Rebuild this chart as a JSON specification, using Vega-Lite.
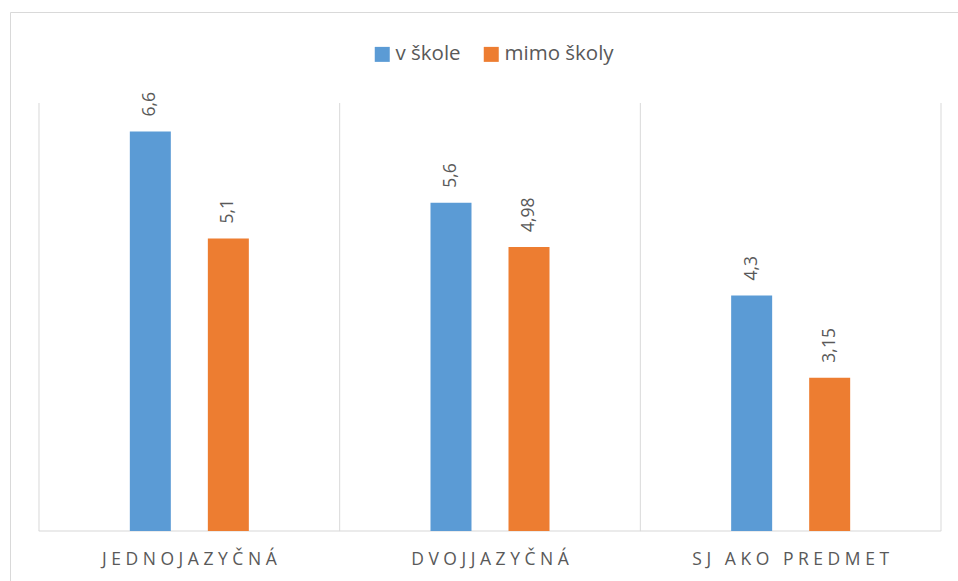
{
  "$schema": "https://vega.github.io/schema/vega-lite/v6.json",
  "width": 960,
  "height": 580,
  "autosize": {"type": "none"},
  "padding": {"left": 10, "top": 12, "right": 0, "bottom": 0},
  "background": "white",
  "config": {
    "font": "Open Sans",
    "locale": {"number": {"decimal": ",", "thousands": " ", "grouping": [3], "currency": ["", " €"]}},
    "view": {"stroke": "#D9D9D9", "strokeWidth": 1}
  },
  "data": {
    "values": [
      {"typ": "JEDNOJAZYČNÁ", "miesto": "v škole", "hodnota": 6.6},
      {"typ": "JEDNOJAZYČNÁ", "miesto": "mimo školy", "hodnota": 5.1},
      {"typ": "DVOJJAZYČNÁ", "miesto": "v škole", "hodnota": 5.6},
      {"typ": "DVOJJAZYČNÁ", "miesto": "mimo školy", "hodnota": 4.98},
      {"typ": "SJ AKO PREDMET", "miesto": "v škole", "hodnota": 4.3},
      {"typ": "SJ AKO PREDMET", "miesto": "mimo školy", "hodnota": 3.15}
    ]
  },
  "layer": [
    {
      "transform": [{"filter": "datum.miesto == 'v škole'"}],
      "mark": {"type": "rule", "color": "#D9D9D9", "strokeWidth": 1},
      "encoding": {
        "x": {"field": "typ", "type": "nominal", "bandPosition": 0,
              "scale": {"domain": ["JEDNOJAZYČNÁ", "DVOJJAZYČNÁ", "SJ AKO PREDMET"], "paddingInner": 0, "paddingOuter": 0.09645}},
        "y": {"datum": 1, "type": "quantitative", "scale": {"domain": [0.1449, 8.2757], "nice": false, "zero": false}, "axis": null},
        "y2": {"datum": 7}
      }
    },
    {
      "transform": [{"filter": "datum.miesto == 'v škole' && datum.typ == 'SJ AKO PREDMET'"}],
      "mark": {"type": "rule", "color": "#D9D9D9", "strokeWidth": 1},
      "encoding": {
        "x": {"field": "typ", "type": "nominal", "bandPosition": 1,
              "scale": {"domain": ["JEDNOJAZYČNÁ", "DVOJJAZYČNÁ", "SJ AKO PREDMET"], "paddingInner": 0, "paddingOuter": 0.09645}},
        "y": {"datum": 1, "type": "quantitative", "scale": {"domain": [0.1449, 8.2757], "nice": false, "zero": false}, "axis": null},
        "y2": {"datum": 7}
      }
    },
    {
      "transform": [{"filter": "datum.miesto == 'v škole'"}],
      "mark": {"type": "tick", "color": "#D9D9D9", "thickness": 1.5, "size": 301, "orient": "horizontal"},
      "encoding": {
        "x": {"field": "typ", "type": "nominal",
              "scale": {"domain": ["JEDNOJAZYČNÁ", "DVOJJAZYČNÁ", "SJ AKO PREDMET"], "paddingInner": 0, "paddingOuter": 0.09645}},
        "y": {"datum": 1, "type": "quantitative", "scale": {"domain": [0.1449, 8.2757], "nice": false, "zero": false}, "axis": null}
      }
    },
    {
      "mark": {"type": "bar", "width": 41},
      "encoding": {
        "x": {"field": "typ", "type": "nominal",
              "scale": {"domain": ["JEDNOJAZYČNÁ", "DVOJJAZYČNÁ", "SJ AKO PREDMET"], "paddingInner": 0, "paddingOuter": 0.09645},
              "axis": {"title": null, "orient": "bottom", "offset": -61, "domain": false, "ticks": false, "grid": false,
                       "bandPosition": 0.5, "labelAlign": "center", "labelLimit": 0,
                       "labelAngle": 0, "labelFont": "Open Sans", "labelFontSize": 17.5, "labelColor": "#595959", "labelPadding": 28,
                       "labelExpr": "join(split(datum.label, ''), '\u00a0')"}},
        "xOffset": {"field": "miesto", "type": "nominal",
                    "scale": {"domain": ["v škole", "mimo školy"], "paddingInner": 0, "paddingOuter": 0.927}},
        "y": {"field": "hodnota", "type": "quantitative", "scale": {"domain": [0.1449, 8.2757], "nice": false, "zero": false}, "axis": null},
        "y2": {"datum": 1},
        "color": {"field": "miesto", "type": "nominal",
                  "scale": {"domain": ["v škole", "mimo školy"], "range": ["#5B9BD5", "#ED7D31"]},
                  "legend": {"orient": "none", "legendX": 362, "legendY": 32, "direction": "horizontal", "title": null,
                             "symbolType": "square", "symbolSize": 225, "symbolStrokeWidth": 0,
                             "labelFont": "Open Sans", "labelFontSize": 20.5, "labelColor": "#595959",
                             "labelOffset": 3, "columnPadding": 20, "padding": 0}}
      }
    },
    {
      "mark": {"type": "text", "angle": 270, "align": "left", "baseline": "middle", "dx": 15,
               "font": "Open Sans", "fontSize": 17.5, "color": "#595959"},
      "encoding": {
        "x": {"field": "typ", "type": "nominal",
              "scale": {"domain": ["JEDNOJAZYČNÁ", "DVOJJAZYČNÁ", "SJ AKO PREDMET"], "paddingInner": 0, "paddingOuter": 0.09645}},
        "xOffset": {"field": "miesto", "type": "nominal",
                    "scale": {"domain": ["v škole", "mimo školy"], "paddingInner": 0, "paddingOuter": 0.927}},
        "y": {"field": "hodnota", "type": "quantitative", "scale": {"domain": [0.1449, 8.2757], "nice": false, "zero": false}, "axis": null},
        "text": {"field": "hodnota", "type": "quantitative", "format": "~g"}
      }
    }
  ]
}
